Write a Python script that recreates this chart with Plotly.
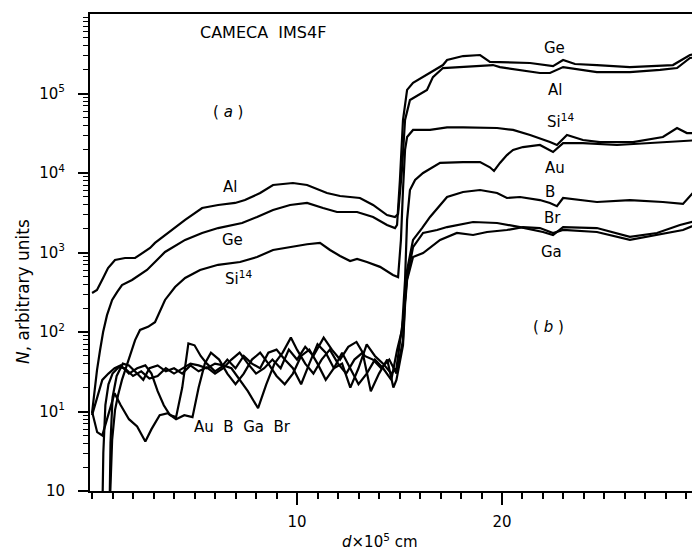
import plotly.graph_objects as go

# ---------------- data (d x 10^5 cm, N arbitrary units) ----------------
X_AL = [0, 0.24, 0.54, 0.78, 1.12, 1.61, 2.10, 2.44, 2.83, 3.07, 3.71, 4.54, 5.37, 6.15, 6.98, 7.46,
        8.20, 8.83, 9.80, 10.49, 11.46, 12.10, 13.07, 13.71, 14.39, 14.78, 14.93, 15.12, 15.27, 15.51,
        16.34, 16.63, 17.12, 18.10, 19.56, 19.90, 21.85, 22.34, 22.98, 24.63, 26.24, 27.71, 28.54,
        29.17, 29.66]
N_AL = [310, 338, 478, 638, 805, 853, 853, 985, 1140, 1320, 1760, 2570, 3630, 3960, 4200, 4570,
        5600, 7060, 7480, 7060, 5600, 5140, 4850, 3960, 2960, 2800, 3050, 10900, 46400, 82800,
        111000, 161000, 209000, 215000, 228000, 215000, 181000, 181000, 215000, 186000, 186000,
        198000, 209000, 280000, 288000]

X_GE = [0, 0.15, 0.24, 0.39, 0.54, 0.73, 0.98, 1.22, 1.46, 1.95, 2.68, 3.07, 3.56, 4.54, 5.37, 6.15,
        7.32, 8.05, 8.83, 9.66, 10.49, 11.27, 11.95, 12.93, 13.71, 14.39, 14.78, 14.88, 15.02, 15.17,
        15.37, 15.66, 16.49, 17.12, 17.32, 18.10, 18.93, 19.41, 21.37, 22.49, 22.98, 23.56, 24.63,
        26.24, 28.34, 29.17, 29.66]
N_GE = [9.6, 21.5, 33, 59, 100, 163, 253, 318, 390, 451, 602, 760, 1015, 1440, 1760, 2030,
        2350, 2800, 3430, 3960, 4200, 3630, 3230, 3230, 2800, 2220, 2030, 2220, 8170, 46400,
        111000, 136000, 181000, 228000, 264000, 296000, 305000, 250000, 242000, 221000, 264000,
        235000, 228000, 215000, 228000, 305000, 323000]

X_SI = [0.85, 0.98, 1.12, 1.27, 1.46, 1.61, 1.85, 2.10, 2.34, 2.73, 3.07, 3.56, 4.05, 4.54, 5.27,
        6.15, 7.22, 8.05, 8.83, 9.66, 10.49, 11.12, 11.61, 12.10, 12.59, 12.93, 13.41, 14.05, 14.68,
        14.93, 15.07, 15.17, 15.27, 15.37, 15.66, 16.49, 17.32, 18.10, 18.93, 19.76, 20.54, 21.37,
        22.34, 22.68, 23.17, 23.95, 24.78, 26.39, 27.85, 28.54, 29.02, 29.66]
N_SI = [0.5, 4.4, 10.4, 16.1, 25, 33, 51, 79, 106, 116, 133, 253, 368, 478, 602,
        700, 760, 878, 1075, 1170, 1270, 1320, 1075, 905, 780, 828, 760, 660, 521,
        490, 1440, 6110, 19500, 28400, 34800, 34800, 37500, 37500, 36800, 36800, 34800, 30000,
        24500, 22500, 30000, 26000, 24500, 24500, 28400, 36800, 31800, 31800]

X_AU = [0.0, 0.25, 0.5, 0.8, 1.1, 1.4, 1.8, 2.2, 2.6, 2.9, 3.3, 3.7, 4.1, 4.5, 4.9, 5.2, 5.5, 5.8,
        6.2, 6.6, 7.0, 7.4, 7.8, 8.2, 8.6, 9.0, 9.4, 9.8, 10.2, 10.6, 11.0, 11.4, 11.8, 12.2, 12.6,
        13.0, 13.4, 13.8, 14.2, 14.6, 14.88, 15.12, 15.27, 15.37, 15.51, 15.76, 16.15, 16.98, 18.10,
        18.93, 19.41, 19.61, 19.90, 20.24, 20.54, 21.02, 21.85, 22.49, 22.98, 23.95, 25.61, 27.22,
        29.66]
N_AU = [10, 5.5, 5, 9, 17, 12, 8, 6.5, 4.2, 6, 9, 9.5, 8, 9, 8.5, 20, 40, 55,
        45, 30, 22, 30, 45, 55, 40, 28, 22, 30, 50, 60, 40, 25, 35, 55, 35,
        22, 30, 45, 35, 25, 59, 106, 451, 2570, 6110, 8170, 10000, 13400, 13700,
        13700, 11800, 10600, 13400, 16800, 19500, 21200, 22500, 18400, 23800, 23800, 22500, 23800,
        26000]

X_B = [0.0, 0.2, 0.5, 0.8, 1.1, 1.4, 1.8, 2.2, 2.6, 2.9, 3.2, 3.5, 3.8, 4.1, 4.4, 4.7, 5.0, 5.3,
       5.6, 6.0, 6.3, 6.6, 7.0, 7.4, 7.8, 8.2, 8.6, 9.0, 9.4, 9.8, 10.2, 10.6, 11.0, 11.4, 11.8,
       12.2, 12.6, 13.0, 13.4, 13.8, 14.2, 14.6, 14.85, 15.17, 15.27, 15.37, 15.66, 16.10, 16.49,
       17.32, 18.10, 18.93, 19.76, 20.24, 20.88, 21.85, 22.34, 22.68, 22.98, 24.63, 26.24, 27.85,
       28.83, 29.66]
N_B = [9, 14, 25, 30, 35, 38, 30, 35, 38, 30, 18, 12, 9, 8.5, 20, 72, 68, 50,
       40, 32, 36, 45, 35, 50, 40, 35, 55, 60, 45, 35, 22, 40, 70, 55, 35,
       40, 20, 35, 70, 50, 40, 30, 35, 141, 253, 602, 1440, 2030, 2800,
       4990, 5770, 6110, 5600, 4850, 4990, 4570, 4200, 3830, 4850, 4320, 4570, 4320,
       4080, 7060]

X_GA = [0.5, 0.55, 0.65, 0.8, 1.0, 1.3, 1.6, 2.0, 2.4, 2.8, 3.2, 3.6, 4.0, 4.4, 4.8, 5.2, 5.6, 6.0,
        6.4, 6.8, 7.2, 7.6, 8.1, 8.5, 8.9, 9.3, 9.7, 10.0, 10.4, 10.8, 11.2, 11.6, 12.0, 12.4, 12.8,
        13.2, 13.6, 14.0, 14.4, 14.7, 14.85, 15.17, 15.27, 15.37, 15.66, 16.15, 16.98, 17.80, 18.59,
        19.27, 20.24, 21.02, 21.85, 22.49, 22.98, 24.63, 26.24, 27.56, 28.83, 29.66]
N_GA = [0.5, 3, 12, 22, 30, 36, 35, 28, 32, 26, 28, 35, 30, 35, 40, 38, 35, 40,
        38, 35, 25, 18, 11, 22, 40, 55, 85, 60, 40, 30, 45, 60, 40, 30, 45,
        55, 18, 30, 45, 20, 25, 68, 218, 451, 878, 985, 1440, 1760, 1660,
        1810, 1920, 2090, 2030, 1760, 1920, 1810, 1440, 1660, 1920, 2350]

X_BR = [0.85, 0.9, 1.0, 1.2, 1.5, 1.8, 2.2, 2.5, 2.8, 3.2, 3.6, 4.0, 4.4, 4.8, 5.2, 5.6, 6.0, 6.4,
        6.8, 7.2, 7.6, 8.0, 8.4, 8.8, 9.2, 9.6, 10.0, 10.4, 10.8, 11.3, 11.7, 12.1, 12.5, 12.9, 13.3,
        13.7, 14.1, 14.5, 14.85, 15.17, 15.27, 15.37, 15.66, 16.15, 16.83, 17.32, 18.59, 19.76,
        20.88, 22.00, 22.49, 22.98, 24.63, 26.24, 27.56, 28.68, 29.66]
N_BR = [0.5, 4, 15, 28, 40, 38, 30, 25, 35, 38, 32, 35, 30, 38, 32, 36, 30, 35,
        45, 55, 40, 30, 35, 45, 35, 60, 45, 65, 50, 85, 60, 45, 65, 75, 50,
        45, 35, 45, 30, 79, 253, 478, 1170, 1760, 1920, 2090, 2420, 2350,
        2090, 1810, 1660, 2090, 2030, 1570, 1760, 2220, 2570]

SERIES = [("Al", X_AL, N_AL), ("Ge", X_GE, N_GE), ("Si14", X_SI, N_SI), ("Au", X_AU, N_AU),
          ("B", X_B, N_B), ("Ga", X_GA, N_GA), ("Br", X_BR, N_BR)]

Y_TICKS = [1, 10, 100, 1e3, 1e4, 1e5]
Y_TICKTEXT = ["10", "10<sup>1</sup>", "10<sup>2</sup>", "10<sup>3</sup>", "10<sup>4</sup>", "10<sup>5</sup>"]
X_TICKS = [10, 20]
Y_MINOR = [m * 10 ** k for k in range(0, 6) for m in range(2, 10)]

# ---------------- figure ----------------
FONT = "DejaVu Sans"
fig = go.Figure()
for name, xs, ns in SERIES:
    fig.add_trace(go.Scatter(x=xs, y=ns, mode="lines", name=name,
                             line=dict(color="black", width=2.2), showlegend=False))

# page body has an 8px margin: size the figure so the plot area lands where the reference has it
fig.update_layout(
    width=692, height=546,
    margin=dict(l=82, r=0, t=6, b=63, autoexpand=False),
    paper_bgcolor="white", plot_bgcolor="white",
    font=dict(family=FONT, size=15, color="black"),
)
fig.update_xaxes(
    range=[-0.1, 29.66], showgrid=False, zeroline=False, automargin=False,
    showline=True, linecolor="black", linewidth=2, mirror=True,
    tickmode="array", tickvals=X_TICKS, ticks="outside", ticklen=12, tickwidth=1.5,
    tickcolor="black", tickfont=dict(size=15), ticklabelstandoff=4,
    minor=dict(ticks="outside", ticklen=6, tickwidth=1.5, tickcolor="black", dtick=1, tick0=0),
)
fig.update_yaxes(
    type="log", range=[0, 6], showgrid=False, zeroline=False, automargin=False,
    showline=True, linecolor="black", linewidth=2,
    tickmode="array", tickvals=Y_TICKS, ticktext=Y_TICKTEXT,
    ticks="outside", ticklen=10, tickwidth=1.5, tickcolor="black", tickfont=dict(size=15),
    ticklabelstandoff=10,
    minor=dict(ticks="outside", ticklen=5, tickwidth=1.2, tickcolor="black",
               tickmode="array", tickvals=Y_MINOR),
)

LABELS = [
    ("CAMECA  IMS4F", 0.284, 0.962, 16),
    ("( <i>a</i> )", 0.226, 0.795, 15),
    ("( <i>b</i> )", 0.751, 0.344, 15),
    ("Al", 0.230, 0.637, 15),
    ("Ge", 0.233, 0.526, 15),
    ("Si<sup>14</sup>", 0.243, 0.446, 15),
    ("Au  B  Ga  Br", 0.250, 0.134, 15),
    ("Ge", 0.762, 0.929, 15),
    ("Al", 0.762, 0.841, 15),
    ("Si<sup>14</sup>", 0.772, 0.776, 15),
    ("Au", 0.762, 0.677, 15),
    ("B", 0.754, 0.627, 15),
    ("Br", 0.759, 0.572, 15),
    ("Ga", 0.757, 0.501, 15),
]
for text, xp, yp, sz in LABELS:
    fig.add_annotation(text=text, x=xp, y=yp, xref="paper", yref="paper",
                       xanchor="center", yanchor="middle",
                       showarrow=False, font=dict(family=FONT, size=sz, color="black"))

fig.add_annotation(text="<i>d</i>\u00d710<sup>5</sup> cm", x=0.475, y=-0.104,
                   xref="paper", yref="paper", xanchor="center", yanchor="middle",
                   showarrow=False, font=dict(family=FONT, size=15, color="black"))
fig.add_annotation(text="<i>N</i>, arbitrary units", x=-0.111, y=0.418,
                   xref="paper", yref="paper", xanchor="center", yanchor="middle",
                   showarrow=False, textangle=-90,
                   font=dict(family=FONT, size=17, color="black"))

fig.write_html("out.html")
